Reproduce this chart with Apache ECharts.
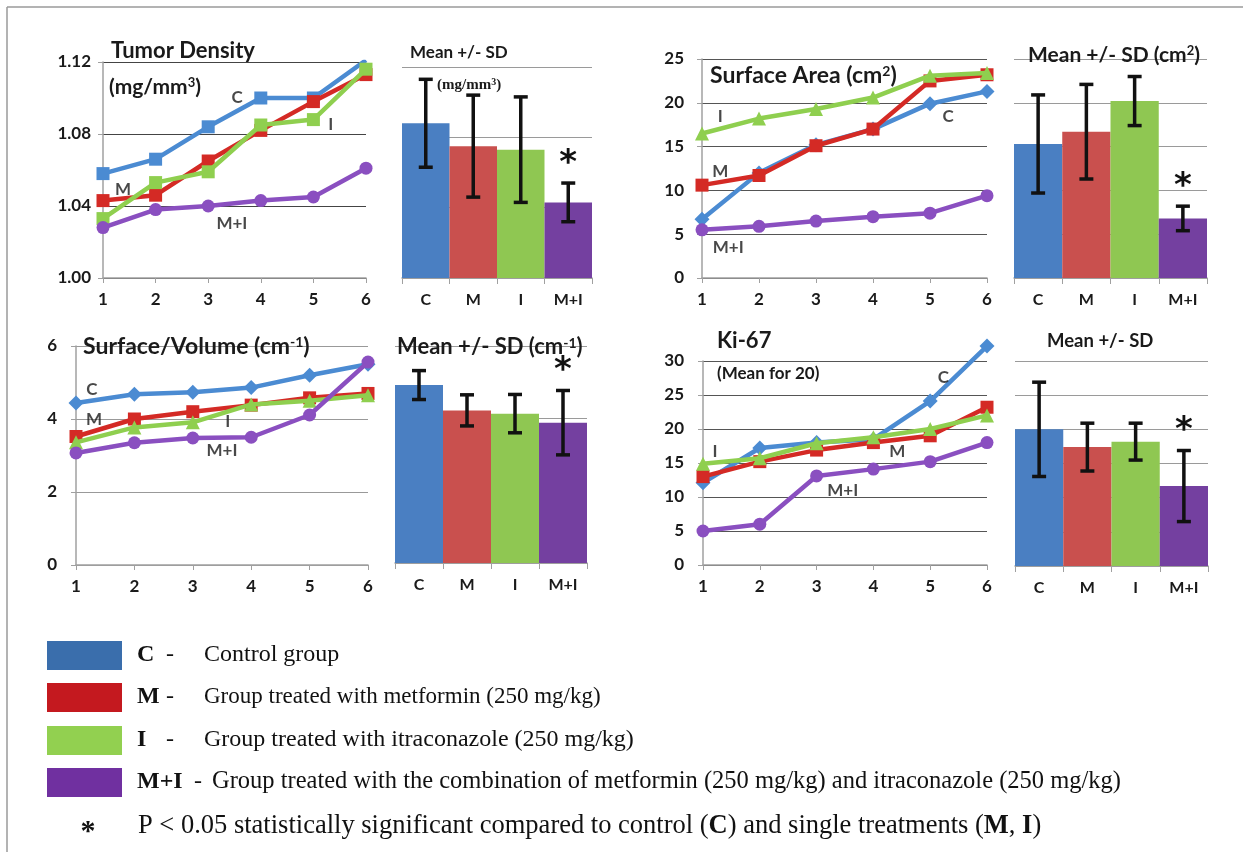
<!DOCTYPE html>
<html><head><meta charset="utf-8">
<script src="https://cdn.jsdelivr.net/npm/echarts@6/dist/echarts.min.js"></script>
<style>html,body{margin:0;padding:0;background:#fff}#c{width:1250px;height:861px}</style>
</head><body><div id="c"></div>
<script>
// ---------------- DATA ----------------
const days = [1, 2, 3, 4, 5, 6];
const groups = ['C', 'M', 'I', 'M+I'];
const significant = [0, 0, 0, 1];
// Tumor density (mg/mm3)
const densC  = [1.058, 1.066, 1.084, 1.100, 1.100, 1.121];
const densM  = [1.043, 1.046, 1.065, 1.082, 1.098, 1.113];
const densI  = [1.033, 1.053, 1.059, 1.085, 1.088, 1.116];
const densMI = [1.028, 1.038, 1.040, 1.043, 1.045, 1.061];
const densMean = [1.088, 1.075, 1.073, 1.043];
const densSD   = [0.025, 0.029, 0.030, 0.011];
// Surface area (cm2)
const areaC  = [6.7, 12.0, 15.2, 17.0, 19.9, 21.3];
const areaM  = [10.6, 11.7, 15.1, 17.0, 22.5, 23.2];
const areaI  = [16.5, 18.2, 19.3, 20.6, 23.1, 23.4];
const areaMI = [5.5, 5.9, 6.5, 7.0, 7.4, 9.4];
const areaMean = [15.3, 16.7, 20.2, 6.8];
const areaSD   = [5.6, 5.4, 2.8, 1.4];
// Surface/Volume (cm-1)
const svC  = [4.44, 4.68, 4.73, 4.86, 5.20, 5.50];
const svM  = [3.52, 4.00, 4.20, 4.38, 4.58, 4.70];
const svI  = [3.36, 3.77, 3.91, 4.40, 4.50, 4.65];
const svMI = [3.07, 3.35, 3.48, 3.50, 4.11, 5.56];
const svMean = [4.92, 4.22, 4.13, 3.88];
const svSD   = [0.40, 0.43, 0.53, 0.89];
// Ki-67 (mean for 20)
const kiC  = [12.1, 17.2, 18.0, 18.5, 24.1, 32.2];
const kiM  = [13.0, 15.2, 16.9, 18.0, 19.0, 23.2];
const kiI  = [14.9, 15.7, 17.9, 18.8, 20.0, 22.0];
const kiMI = [5.0, 6.0, 13.1, 14.1, 15.2, 18.0];
const kiMean = [20.0, 17.4, 18.2, 11.7];
const kiSD   = [6.9, 3.5, 2.7, 5.2];
// in-plot series name labels: [text, x (day), y (value)]
const densLabels = [['C', 3.55, 1.100], ['M', 1.38, 1.049], ['I', 5.33, 1.085], ['M+I', 3.45, 1.030]];
const areaLabels = [['I', 1.32, 18.4], ['M', 1.32, 12.1], ['C', 5.32, 18.4], ['M+I', 1.46, 3.5]];
const svLabels   = [['C', 1.27, 4.8], ['M', 1.31, 3.98], ['I', 3.60, 3.93], ['M+I', 3.50, 3.14]];
const kiLabels   = [['I', 1.21, 16.7], ['C', 5.23, 27.6], ['M', 4.42, 16.7], ['M+I', 3.46, 11.0]];
// legend texts
const legendKeys  = ['C', 'M', 'I', 'M+I'];
const legendTexts = ['Control group',
  'Group treated with metformin (250 mg/kg)',
  'Group treated with itraconazole (250 mg/kg)',
  'Group treated with the combination of metformin (250 mg/kg) and itraconazole (250 mg/kg)'];
const footnote = 'P < 0.05 statistically significant compared to control ({b|C}) and single treatments ({b|M}, {b|I})';

// ---------------- STYLE ----------------
const lineColors = ['#4b8bd2', '#d42a25', '#8fcf4f', '#8a4fc0'];
const barColors  = ['#4a7fc2', '#c9504e', '#8fc752', '#7440a0'];
const legendColors = ['#3a6eac', '#c4191f', '#92d050', '#7030a0'];
const F = 'Lato, "Open Sans", sans-serif';
const SERIF = '"Liberation Serif", "DejaVu Serif", serif';
const TXT = '#1a1a1a';
const symSize = { rect: 13, diamond: 15, triangle: 14, circle: 13 };

const panels = [
  { lines: [densC, densM, densI, densMI], mean: densMean, sd: densSD, labels: densLabels,
    lineGrid: { left: 103, top: 62, width: 263, height: 216 },
    barGrid:  { left: 402, top: 67, width: 190, height: 211 },
    y: { min: 1.0, max: 1.12, interval: 0.04, fmt: v => v.toFixed(2) }, margin: 12,
    gridColor: '#444', symbols: ['rect', 'rect', 'rect', 'circle'], clip: true },
  { lines: [areaC, areaM, areaI, areaMI], mean: areaMean, sd: areaSD, labels: areaLabels,
    lineGrid: { left: 702, top: 59, width: 285, height: 219 },
    barGrid:  { left: 1014, top: 59, width: 193, height: 219 },
    y: { min: 0, max: 25, interval: 5, fmt: v => String(v) }, margin: 18,
    gridColor: '#555', symbols: ['diamond', 'rect', 'triangle', 'circle'], clip: true },
  { lines: [svC, svM, svI, svMI], mean: svMean, sd: svSD, labels: svLabels,
    lineGrid: { left: 76, top: 346, width: 292, height: 219 },
    barGrid:  { left: 395, top: 346, width: 192, height: 217 },
    y: { min: 0, max: 6, interval: 2, fmt: v => String(v) }, margin: 19,
    gridColor: '#999', symbols: ['diamond', 'rect', 'triangle', 'circle'], clip: true },
  { lines: [kiC, kiM, kiI, kiMI], mean: kiMean, sd: kiSD, labels: kiLabels,
    lineGrid: { left: 703, top: 361, width: 284, height: 204 },
    barGrid:  { left: 1015, top: 361, width: 193, height: 205 },
    y: { min: 0, max: 30, interval: 5, fmt: v => String(v) }, margin: 19,
    gridColor: '#555', symbols: ['diamond', 'rect', 'triangle', 'circle'], clip: false }
];

const grid = [], xAxis = [], yAxis = [], series = [];
const axisGray = '#a0a0a0';
const tickFont = { color: TXT, fontFamily: F, fontWeight: 'bold', fontSize: 17 };
panels.forEach((p, k) => {
  const li = 2 * k, bi = 2 * k + 1;
  grid.push(p.lineGrid, p.barGrid);
  xAxis.push({
    gridIndex: li, type: 'value', min: 1, max: 6, interval: 1,
    axisLine: { lineStyle: { color: axisGray, width: 1.5 } },
    axisTick: { show: true, length: 5, lineStyle: { color: axisGray } },
    splitLine: { show: false },
    axisLabel: Object.assign({ margin: 13 }, tickFont)
  }, {
    gridIndex: bi, type: 'category', data: groups,
    axisLine: { lineStyle: { color: axisGray, width: 1.5 } },
    axisTick: { show: true, length: 6, lineStyle: { color: axisGray } },
    axisLabel: Object.assign({ margin: 14 }, tickFont, { fontSize: 16 })
  });
  yAxis.push({
    gridIndex: li, type: 'value', min: p.y.min, max: p.y.max, interval: p.y.interval,
    axisLine: { show: true, lineStyle: { color: axisGray, width: 1.5 } },
    axisTick: { show: true, length: 5, lineStyle: { color: axisGray } },
    splitLine: { show: true, lineStyle: { color: p.gridColor, width: 1.2 } },
    axisLabel: Object.assign({ margin: p.margin, formatter: p.y.fmt }, tickFont)
  }, {
    gridIndex: bi, type: 'value', min: p.y.min, max: p.y.max, interval: p.y.interval,
    axisLine: { show: false }, axisTick: { show: false }, axisLabel: { show: false },
    splitLine: { show: true, lineStyle: { color: '#9a9a9a', width: 1.2 } }
  });
  p.lines.forEach((arr, g) => {
    series.push({
      type: 'line', xAxisIndex: li, yAxisIndex: li, clip: p.clip,
      data: days.map((d, i) => [d, arr[i]]),
      symbol: p.symbols[g], symbolSize: symSize[p.symbols[g]],
      lineStyle: { color: lineColors[g], width: 4.5 },
      itemStyle: { color: lineColors[g] }, z: 3 + g, animation: false
    });
  });
  series.push({
    type: 'scatter', xAxisIndex: li, yAxisIndex: li, symbolSize: 0, z: 10,
    data: p.labels.map(l => ({ name: l[0], value: [l[1], l[2]] })),
    label: { show: true, position: 'inside', formatter: '{b}', color: TXT,
      fontFamily: F, fontWeight: 'bold', fontSize: 17 },
    animation: false, silent: true
  });
  series.push({
    type: 'bar', xAxisIndex: bi, yAxisIndex: bi, barWidth: '100%', barCategoryGap: '0%',
    data: p.mean.map((v, i) => ({ value: v, itemStyle: { color: barColors[i] } })),
    animation: false
  });
  series.push({
    type: 'custom', xAxisIndex: bi, yAxisIndex: bi, z: 5, animation: false,
    data: p.mean.map((v, i) => [i, v, p.sd[i], significant[i]]),
    encode: { x: 0, y: 1 },
    renderItem: (params, api) => {
      const x = api.value(0), m = api.value(1), sd = api.value(2), sig = api.value(3);
      const top = api.coord([x, m + sd]), bot = api.coord([x, m - sd]);
      const cx = top[0], hw = 7;
      const st = { stroke: '#111', lineWidth: 3.5 };
      const ch = [
        { type: 'line', shape: { x1: cx, y1: top[1], x2: cx, y2: bot[1] }, style: st },
        { type: 'line', shape: { x1: cx - hw, y1: top[1], x2: cx + hw, y2: top[1] }, style: st },
        { type: 'line', shape: { x1: cx - hw, y1: bot[1], x2: cx + hw, y2: bot[1] }, style: st }
      ];
      if (sig) ch.push({ type: 'text', style: { text: '*', x: cx, y: top[1] - 36,
        align: 'center', verticalAlign: 'top', font: 'bold 34px "DejaVu Sans"', fill: '#111' } });
      return { type: 'group', children: ch };
    }
  });
});

// ---------------- TITLES / LEGEND (text) ----------------
function T(text, x, y, size) {
  return { type: 'text', x: x, y: y, z: 50, silent: true,
    style: { text: text, fill: TXT, font: 'bold ' + size + 'px ' + F,
      verticalAlign: 'middle', align: 'left',
      rich: { s: { fontSize: Math.round(size * 0.62), fontFamily: F, fontWeight: 'bold', fill: TXT, verticalAlign: 'top' },
              n: { fontSize: size, fontFamily: F, fontWeight: 'bold', fill: TXT } } } };
}
const graphic = [
  { type: 'line', shape: { x1: 7, y1: 7, x2: 1243, y2: 7 }, style: { stroke: '#9a9a9a', lineWidth: 1.5 } },
  { type: 'line', shape: { x1: 7, y1: 7, x2: 7, y2: 852 }, style: { stroke: '#9a9a9a', lineWidth: 1.5 } },
  T('{n|Tumor Density}', 111, 51, 22),
  T('{n|(mg/mm}{s|3}{n|)}', 109, 87, 21),
  T('{n|Mean +/- SD}', 410, 53, 17),
  { type: 'text', x: 437, y: 85, z: 50, style: { text: '(mg/mm{s|3})', fill: TXT,
      font: 'bold 15px ' + SERIF, verticalAlign: 'middle',
      rich: { s: { fontSize: 10, fontFamily: SERIF, fontWeight: 'bold', fill: TXT, verticalAlign: 'top' } } } },
  T('{n|Surface Area (cm}{s|2}{n|)}', 710, 76, 23),
  T('{n|Mean +/- SD (cm}{s|2}{n|)}', 1028, 55, 21),
  T('{n|Surface/Volume (cm}{s|-1}{n|)}', 83, 347, 23),
  T('{n|Mean +/- SD (cm}{s|-1}{n|)}', 397, 347, 22),
  T('{n|Ki-67}', 717, 341, 22),
  T('{n|(Mean for 20)}', 717, 374, 17),
  T('{n|Mean +/- SD}', 1047, 341, 18.5)
];
const legendY = [655, 697, 740, 782];
const legendSize = [24, 23, 24, 24.5];
legendKeys.forEach((k, i) => {
  graphic.push({ type: 'rect', shape: { x: 47, y: legendY[i] - 14, width: 75, height: 29 },
    style: { fill: legendColors[i] } });
  graphic.push({ type: 'text', x: 137, y: legendY[i], style: { text: k, fill: '#111',
    font: 'bold 24px ' + SERIF, verticalAlign: 'middle' } });
  graphic.push({ type: 'text', x: k === 'M+I' ? 194 : 166, y: legendY[i], style: { text: '-', fill: '#111',
    font: '24px ' + SERIF, verticalAlign: 'middle' } });
  graphic.push({ type: 'text', x: k === 'M+I' ? 212 : 204, y: legendY[i], style: { text: legendTexts[i],
    fill: '#111', font: legendSize[i] + 'px ' + SERIF, verticalAlign: 'middle' } });
});
graphic.push({ type: 'text', x: 88, y: 832, style: { text: '*', fill: '#111', font: 'bold 30px ' + SERIF,
  align: 'center', verticalAlign: 'middle' } });
graphic.push({ type: 'text', x: 138, y: 826, style: { text: footnote, fill: '#111', font: '26.5px ' + SERIF,
  verticalAlign: 'middle', rich: { b: { fontWeight: 'bold', fontSize: 26.5, fontFamily: SERIF, fill: '#111' } } } });

const chart = echarts.init(document.getElementById('c'), null, { renderer: 'canvas' });
chart.setOption({ backgroundColor: '#fff', animation: false, grid, xAxis, yAxis, series, graphic });
</script></body></html>
